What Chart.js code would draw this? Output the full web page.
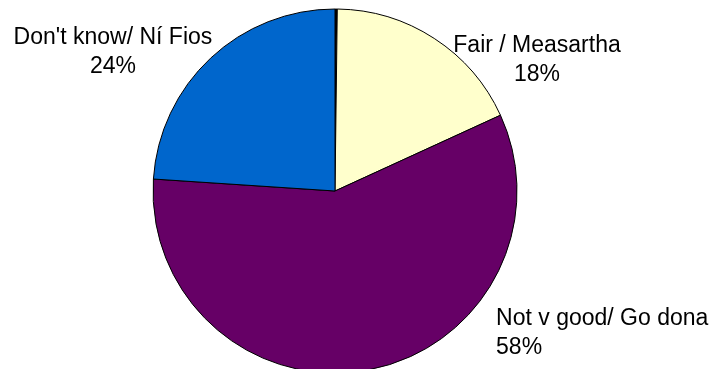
<!DOCTYPE html>
<html>
<head>
<meta charset="utf-8">
<script src="https://cdn.jsdelivr.net/npm/chart.js@4/dist/chart.umd.min.js"></script>
<style>
  html, body { margin: 0; padding: 0; background: #ffffff; }
  #wrap { width: 715px; height: 369px; }
</style>
</head>
<body>
<div id="wrap"><canvas id="c" width="715" height="369"></canvas></div>
<script>
// Survey answers, clockwise from 12 o'clock
const categories = ['Good/ Go maith', 'Fair / Measartha', 'Not v good/ Go dona', "Don't know/ Ní Fios"];
const shares = [0.2, 18, 58, 24];
const percentLabels = ['', '18%', '58%', '24%'];
const sliceColours = ['#000000', '#FFFFCC', '#660066', '#0066CC'];

// Label placement relative to the pie centre, in units of the radius
const labelPlacement = [
  null,
  { dx: 1.11, dy: -0.80, align: 'center' },
  { dx: 0.885, dy: 0.70, align: 'left' },
  { dx: -1.22, dy: -0.84, align: 'center' }
];

const sliceLabels = {
  id: 'sliceLabels',
  afterDatasetsDraw(chart) {
    const ctx = chart.ctx;
    const arcs = chart.getDatasetMeta(0).data;
    ctx.save();
    ctx.fillStyle = '#000000';
    ctx.font = '23px "Liberation Sans", Arial, sans-serif';
    ctx.textBaseline = 'middle';
    arcs.forEach((arc, i) => {
      const p = labelPlacement[i];
      if (!p) return;
      const r = arc.outerRadius;
      const x = arc.x + p.dx * r;
      const y = arc.y + p.dy * r;
      ctx.textAlign = p.align;
      ctx.fillText(categories[i], x, y);
      ctx.fillText(percentLabels[i], x, y + 29);
    });
    ctx.restore();
  }
};

new Chart(document.getElementById('c'), {
  type: 'pie',
  data: {
    labels: categories,
    datasets: [{
      data: shares,
      backgroundColor: sliceColours,
      borderColor: '#000000',
      borderWidth: 1,
      radius: 182,
      clip: false
    }]
  },
  options: {
    responsive: false,
    animation: false,
    layout: { padding: { left: 0, right: 45, top: 13, bottom: 0 } },
    plugins: {
      legend: { display: false },
      tooltip: { enabled: false },
      title: { display: false }
    }
  },
  plugins: [sliceLabels]
});
</script>
</body>
</html>
